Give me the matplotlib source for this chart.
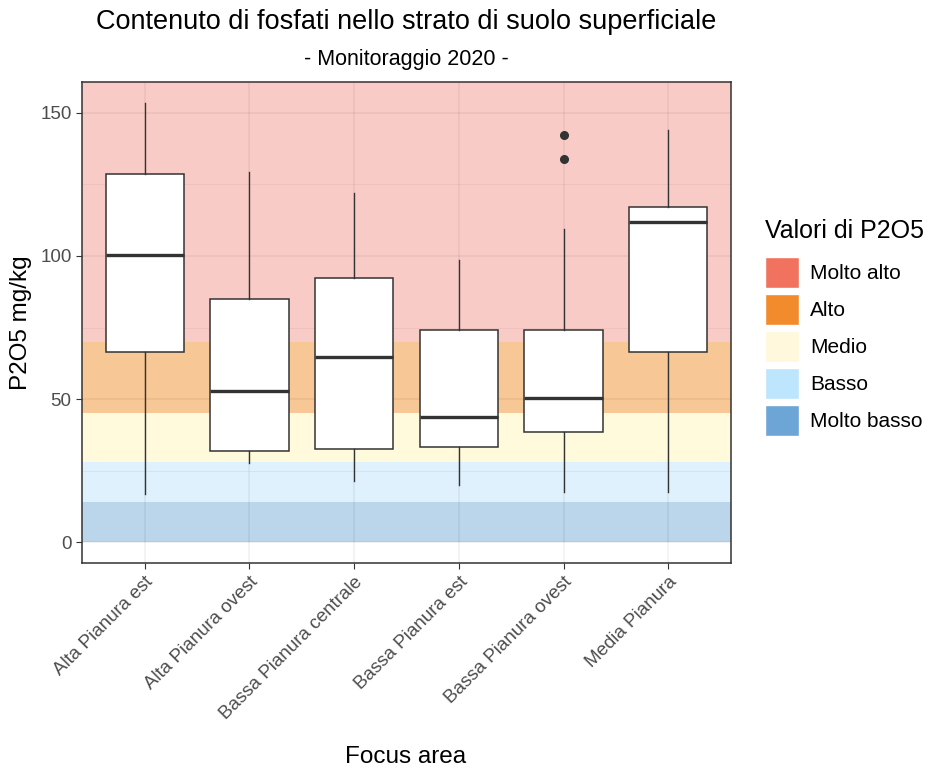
import matplotlib
matplotlib.use("Agg")
import matplotlib.pyplot as plt
from matplotlib.patches import Patch
import numpy as np

plt.rcParams['font.family'] = ['Liberation Sans', 'DejaVu Sans']

# focus areas and box statistics (mg/kg)
areas = ["Alta Pianura est", "Alta Pianura ovest", "Bassa Pianura centrale",
         "Bassa Pianura est", "Bassa Pianura ovest", "Media Pianura"]
whisker_low = [16.8, 27.7, 21.2, 20.0, 17.4, 17.4]
q1 = [66.4, 31.9, 32.4, 33.4, 38.4, 66.4]
median = [100.4, 52.9, 64.6, 43.7, 50.2, 111.8]
q3 = [128.5, 85.1, 92.2, 74.2, 74.2, 117.1]
whisker_high = [153.5, 129.3, 122.1, 98.5, 109.4, 144.1]
outliers = [[], [], [], [], [142.3, 133.9], []]

# classes of P2O5
class_names = ["Molto alto", "Alto", "Medio", "Basso", "Molto basso"]
class_low = [70, 45, 28, 14, 0]
class_high = [np.inf, 70, 45, 28, 14]
class_colors = ["#F1735F", "#F28B2C", "#FFF8DC", "#BDE5FD", "#6DA5D6"]
band_colors = ["#F9CBC6", "#F7C796", "#FFFADC", "#DFF1FD", "#BBD5EA"]

fig = plt.figure(figsize=(9.3, 7.71), dpi=100)
ax = fig.add_axes([82 / 930, 1 - 563 / 771, 649 / 930, 481 / 771])

ymin, ymax = -7.3, 160.8
ax.set_ylim(ymin, ymax)
ax.set_xlim(0.4, len(areas) + 0.6)

for lo, hi, col in zip(class_low, class_high, band_colors):
    ax.axhspan(lo, min(hi, ymax), color=col, lw=0, zorder=1)

stats = []
for i, name in enumerate(areas):
    stats.append(dict(label=name, whislo=whisker_low[i], q1=q1[i], med=median[i],
                      q3=q3[i], whishi=whisker_high[i], fliers=outliers[i]))

ax.bxp(stats, positions=np.arange(1, len(areas) + 1), widths=0.75,
       patch_artist=True, showcaps=False, zorder=3,
       boxprops=dict(facecolor="white", edgecolor="#333333", linewidth=1.1),
       medianprops=dict(color="#333333", linewidth=2.4),
       whiskerprops=dict(color="#333333", linewidth=1.0),
       flierprops=dict(marker="o", markerfacecolor="#333333",
                       markeredgecolor="#333333", markersize=5.5))

ax.set_yticks([0, 50, 100, 150])
ax.set_yticks([25, 75, 125], minor=True)
ax.grid(True, which="major", color="black", alpha=0.06, linewidth=1.1, zorder=2)
ax.grid(True, which="minor", axis="y", color="black", alpha=0.06, linewidth=0.55, zorder=2)
ax.tick_params(axis="both", which="major", colors="#333333", labelcolor="#4D4D4D",
               labelsize=13.5, length=4)
ax.tick_params(axis="y", which="minor", length=0)
ax.set_xticks(np.arange(1, len(areas) + 1))
ax.set_xticklabels(areas, rotation=45, ha="right", va="top", rotation_mode="anchor")
for s in ax.spines.values():
    s.set_color("#333333")
    s.set_linewidth(1.1)
    s.set_zorder(4)

ax.set_ylabel("P2O5 mg/kg", fontsize=17.5, labelpad=6)
fig.text(406 / 930, 1 - 757 / 771, "Focus area", ha="center", va="center", fontsize=17.5)

fig.text(406 / 930, 1 - 22 / 771, "Contenuto di fosfati nello strato di suolo superficiale",
         ha="center", va="center", fontsize=19.5)
fig.text(406 / 930, 1 - 60 / 771, "- Monitoraggio 2020 -",
         ha="center", va="center", fontsize=15.5)

handles = [Patch(facecolor=c, edgecolor="white", label=n)
           for n, c in zip(class_names, class_colors)]
leg = fig.legend(handles=handles, title="Valori di P2O5", loc="upper left",
                 bbox_to_anchor=(765 / 930, 1 - 219 / 771), frameon=False,
                 fontsize=15, title_fontsize=18, handlelength=1.63,
                 handleheight=1.95, labelspacing=0.26, handletextpad=0.55,
                 borderaxespad=0, borderpad=0)
leg._legend_box.align = "left"
leg._legend_box.sep = 10

fig.savefig("out.png", dpi=100)
